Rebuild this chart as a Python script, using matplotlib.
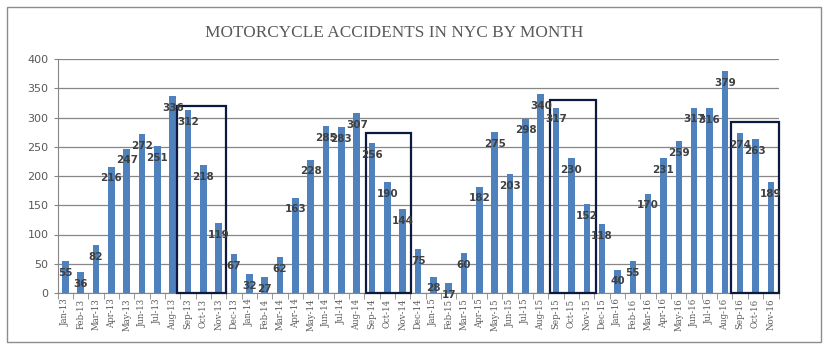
import matplotlib
matplotlib.use("Agg")
import matplotlib.pyplot as plt
from matplotlib.patches import Rectangle

months = ["Jan", "Feb", "Mar", "Apr", "May", "Jun", "Jul", "Aug", "Sep", "Oct", "Nov", "Dec"]
years = ["13", "14", "15", "16"]
labels = [f"{m}-{y}" for y in years for m in months][:47]

values = [55, 36, 82, 216, 247, 272, 251, 336, 312, 218, 119, 67,
          32, 27, 62, 163, 228, 285, 283, 307, 256, 190, 144, 75,
          28, 17, 68, 182, 275, 203, 298, 340, 317, 230, 152, 118,
          40, 55, 170, 231, 259, 317, 316, 379, 274, 263, 189]
display_labels = [55, 36, 82, 216, 247, 272, 251, 336, 312, 218, 119, 67,
                  32, 27, 62, 163, 228, 285, 283, 307, 256, 190, 144, 75,
                  28, 17, 60, 182, 275, 203, 298, 340, 317, 230, 152, 118,
                  40, 55, 170, 231, 259, 317, 316, 379, 274, 263, 189]

# highlight boxes: (x_start, x_end, top)
boxes = [(7.3, 10.5, 320), (19.6, 22.55, 274), (31.6, 34.6, 330), (43.4, 46.5, 293)]

fig = plt.figure(figsize=(8.3, 3.53), dpi=100)
W, H = 830, 353
ax = fig.add_axes([57.7 / W, 1 - 293 / H, (778.5 - 57.7) / W, (293 - 59) / H])

x = list(range(len(values)))
ax.bar(x, values, width=0.43, color="#4f81bd", zorder=2)
ax.set_xlim(-0.5, len(values) - 0.5)
ax.set_ylim(0, 400)
ax.set_yticks(range(0, 401, 50))
ax.yaxis.grid(True, color="#868686", linewidth=0.9, zorder=0)
ax.set_axisbelow(True)

for s in ["top", "right"]:
    ax.spines[s].set_visible(False)
ax.spines["left"].set_color("#868686")
ax.spines["bottom"].set_color("#868686")

ax.set_xticks(x)
ax.set_xticklabels(labels, rotation=90, fontsize=6.2, color="#595959", fontfamily="DejaVu Serif")
ax.tick_params(axis="x", length=0, pad=4)
ax.set_xticks([i + 0.5 for i in range(-1, len(values))], minor=True)
ax.tick_params(axis="x", which="minor", length=4, color="#868686")
ax.tick_params(axis="y", labelsize=8, colors="#595959", length=3, color="#868686")

for xi, v, lab in zip(x, values, display_labels):
    ax.annotate(str(lab), (xi, v), xytext=(0, -8.5), textcoords="offset points",
                ha="center", va="center", fontsize=7.5, fontweight="bold",
                color="#404040", zorder=4)

for x0, x1, top in boxes:
    ax.add_patch(Rectangle((x0, 0), x1 - x0, top, fill=False, edgecolor="#0c1a3f",
                           linewidth=1.6, zorder=3, clip_on=False))

fig.text(394 / W, 1 - 33 / H, "MOTORCYCLE ACCIDENTS IN NYC BY MONTH", ha="center", va="center",
         fontsize=12.4, color="#595959", fontfamily="Liberation Serif")

fig.patches.append(Rectangle((6.5 / W, 1 - 342 / H), (820.5 - 6.5) / W, (342 - 6.5) / H,
                             transform=fig.transFigure, fill=False, edgecolor="#8c8c8c",
                             linewidth=1.0))

fig.savefig("out.png", dpi=100, facecolor="white")
